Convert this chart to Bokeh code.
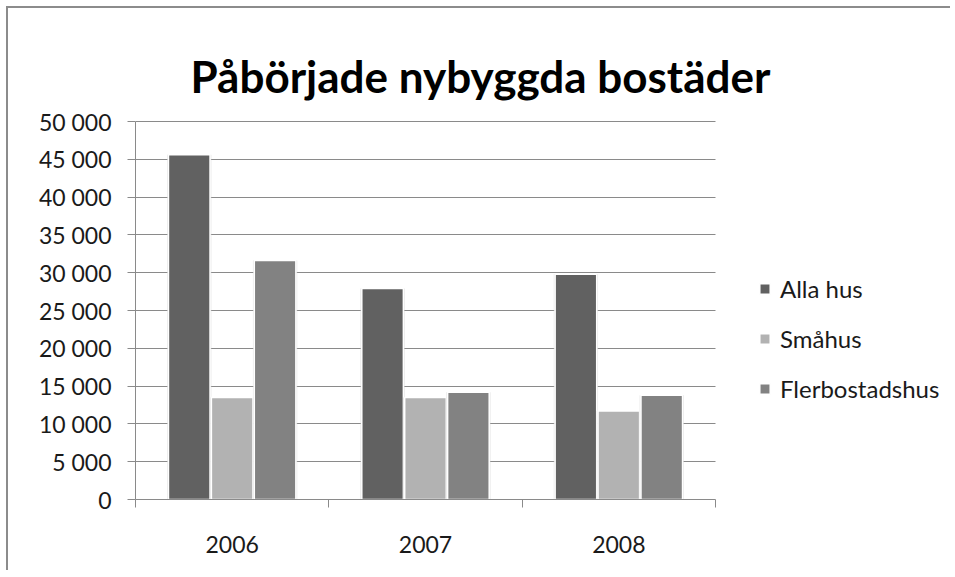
from bokeh.plotting import figure
from bokeh.models import Range1d, FixedTicker, Legend, LegendItem, Label
from bokeh.embed import file_html
from bokeh.resources import INLINE

title_text = "Påbörjade nybyggda bostäder"
years = ["2006", "2007", "2008"]
series_names = ["Alla hus", "Småhus", "Flerbostadshus"]
alla_hus = [45600, 27900, 29800]
smahus = [13500, 13500, 11700]
flerbostadshus = [31600, 14200, 13800]
y_ticks = [0, 5000, 10000, 15000, 20000, 25000, 30000, 35000, 40000, 45000, 50000]
y_tick_labels = ["0", "5 000", "10 000", "15 000", "20 000", "25 000",
                 "30 000", "35 000", "40 000", "45 000", "50 000"]
colors = ["#616161", "#b2b2b2", "#828282"]

FONT = "Lato"
TXT = "#1a1a1a"
GRID = "#8a8a8a"

# layout (page pixels): figure canvas starts at (8, 8)
W, H = 944, 564
ML, MR, MT, MB = 127, 0, 2, 73
frame_w = W - ML - MR
frame_h = H - MT - MB
ncat = len(years)
ymax = y_ticks[-1]
cat_px = 580.0            # width of the category area
val_px = 378.0            # height of the 0..ymax area
x_end = ncat * frame_w / cat_px
y_end = ymax * frame_h / val_px

p = figure(width=W, height=H, output_backend="svg", toolbar_location=None,
           x_range=Range1d(0, x_end), y_range=Range1d(0, y_end),
           min_border_left=ML, min_border_right=MR, min_border_bottom=MB,
           min_border_top=MT)
p.title = None

p.outline_line_color = None
p.background_fill_color = "white"
p.border_fill_color = "white"
p.styles = {"margin-left": "6px", "margin-top": "6px",
            "border-top": "2px solid #8c8c8c", "border-left": "2px solid #8c8c8c"}

# title as a label inside the (extended) frame
title_x = ncat * (480 - 135) / cat_px
title_y = ymax * (499 - 75) / val_px
p.add_layout(Label(x=title_x, y=title_y, text=title_text, text_align="center",
                   text_baseline="alphabetic", text_font=FONT, text_font_style="bold",
                   text_font_size="44px", text_color="#000000"))

centers = [i + 0.5 for i in range(ncat)]
offsets = [-0.222, 0.0, 0.222]
bw = 0.215
renderers = []
for vals, off, col in zip([alla_hus, smahus, flerbostadshus], offsets, colors):
    xs = [c + off for c in centers]
    p.vbar(x=xs, top=vals, width=bw + 0.014, bottom=0, fill_color="#d4d4d4",
           fill_alpha=0.6, line_color=None)
    r = p.vbar(x=xs, top=vals, width=bw, bottom=0, fill_color=col,
               line_color="white", line_width=1.5)
    renderers.append(r)

yax = p.yaxis[0]
yax.bounds = (0, ymax)
yax.ticker = FixedTicker(ticks=y_ticks)
yax.major_label_overrides = {t: l for t, l in zip(y_ticks, y_tick_labels)}
yax.axis_line_color = GRID
yax.major_tick_line_color = GRID
yax.major_tick_out = 8
yax.major_tick_in = 0
yax.minor_tick_line_color = None
yax.major_label_standoff = 16
yax.major_label_text_font = FONT
yax.major_label_text_font_size = "23px"
yax.major_label_text_color = TXT

xax = p.xaxis[0]
xax.bounds = (0, ncat)
xax.ticker = FixedTicker(ticks=centers, minor_ticks=list(range(ncat + 1)))
xax.major_label_overrides = {c: y for c, y in zip(centers, years)}
xax.axis_line_color = GRID
xax.major_tick_line_color = None
xax.major_tick_out = 0
xax.minor_tick_line_color = GRID
xax.minor_tick_out = 8
xax.minor_tick_in = 0
xax.major_label_standoff = 28
xax.major_label_text_font = FONT
xax.major_label_text_font_size = "23px"
xax.major_label_text_color = TXT

p.xgrid.visible = False
p.ygrid.ticker = FixedTicker(ticks=y_ticks)
p.ygrid.cross_bounds = (0, ncat)
p.ygrid.grid_line_color = GRID
p.ygrid.grid_line_width = 1

legend = Legend(items=[LegendItem(label=n, renderers=[r]) for n, r in zip(series_names, renderers)],
                location=(623, 96), orientation="vertical",
                border_line_color=None, background_fill_alpha=0,
                label_text_font=FONT, label_text_font_size="24px", label_text_color=TXT,
                glyph_width=13, glyph_height=13, label_height=24, label_standoff=9,
                spacing=21, padding=0, margin=0)
p.add_layout(legend, "center")

open("out.html", "w").write(file_html(p, INLINE))
